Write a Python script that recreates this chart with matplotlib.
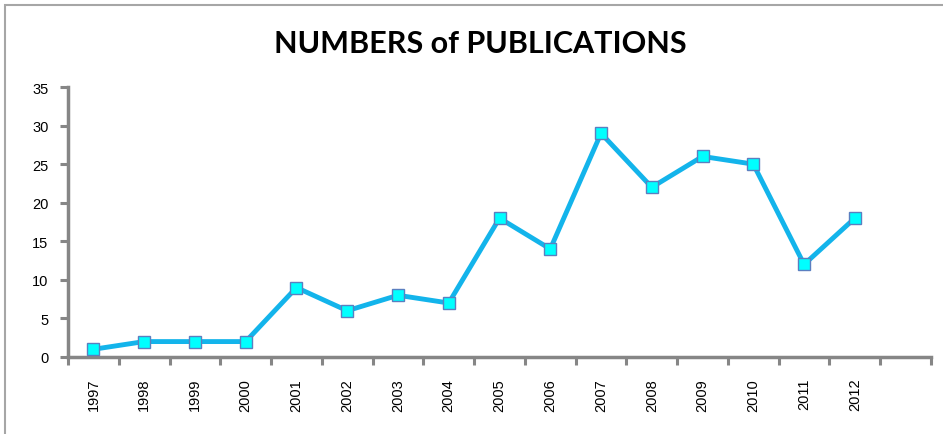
import numpy as np
import matplotlib.pyplot as plt
from matplotlib.patches import Rectangle

# publications per year
years = ['1997', '1998', '1999', '2000', '2001', '2002', '2003', '2004',
         '2005', '2006', '2007', '2008', '2009', '2010', '2011', '2012']
counts = [1, 2, 2, 2, 9, 6, 8, 7, 18, 14, 29, 22, 26, 25, 12, 18]
y_ticks = [0, 5, 10, 15, 20, 25, 30, 35]

W, H = 943, 435
fig = plt.figure(figsize=(W / 100, H / 100), dpi=100)

# outer chart frame
fig.patches.append(Rectangle((5 / W, -0.05), 1.0, (H - 6) / H + 0.05,
                             transform=fig.transFigure, fill=False,
                             edgecolor='#a6a6a6', linewidth=1.5))

ax = fig.add_axes([68 / W, (H - 358) / H, (931 - 68) / W, (358 - 88) / H])

x = np.arange(len(years))
ax.plot(x, counts, color='#13b4eb', linewidth=3.5, marker='s',
        markersize=8, markerfacecolor='#00ffff', markeredgecolor='#5b7fc0',
        markeredgewidth=1.0, solid_joinstyle='round', zorder=3)

ax.set_xlim(-0.5, 16.5)
ax.set_ylim(0, 35)
ax.set_yticks(y_ticks)
ax.set_yticklabels([str(v) for v in y_ticks], fontsize=10.5,
                   family='Liberation Sans')
ax.set_xticks(x)
ax.set_xticklabels(years, rotation=90, fontsize=10.5, family='Liberation Sans')
ax.xaxis.set_tick_params(length=0, pad=15)
ax.set_xticks(np.arange(-0.5, 17, 1.0), minor=True)
ax.tick_params(axis='x', which='minor', length=6, width=2.2, color='#868686',
               direction='out')
ax.tick_params(axis='y', length=6, width=2.2, color='#868686', pad=8)

for s in ['top', 'right']:
    ax.spines[s].set_visible(False)
for s in ['left', 'bottom']:
    ax.spines[s].set_color('#868686')
    ax.spines[s].set_linewidth(2.5)

fig.text(480 / W, 1 - 44 / H, 'NUMBERS of PUBLICATIONS', ha='center',
         va='center', fontsize=22, fontweight='bold', family='Lato')

fig.savefig('out.png', dpi=100)
